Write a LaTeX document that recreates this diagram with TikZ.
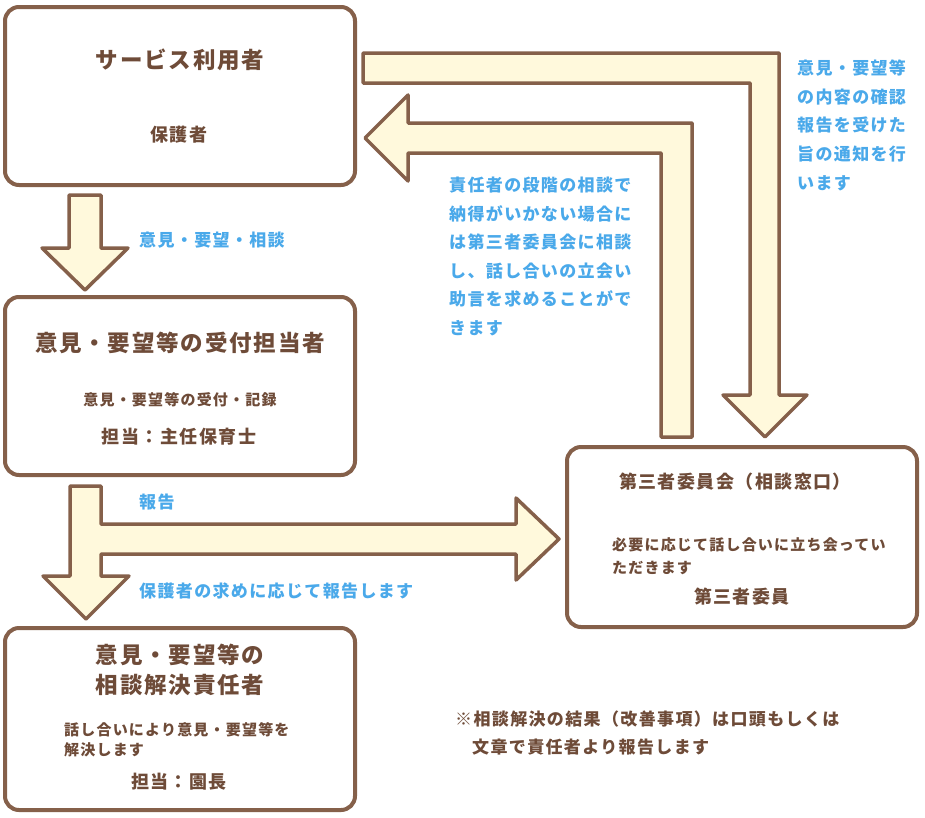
\documentclass[tikz,border=0pt]{standalone}
\usepackage{fontspec}
\newfontfamily\jp{Noto Sans CJK JP}[LetterSpace=8]
\definecolor{brn}{HTML}{85604A}
\definecolor{txtc}{HTML}{6E4B38}
\definecolor{blu}{HTML}{4AA9EA}
\definecolor{crm}{HTML}{FFF9DC}
\tikzset{
  box/.style={draw=brn, line width=4pt, rounded corners=14pt, fill=white, inner sep=0pt, minimum width=350pt},
  blockarrow/.style={draw=brn, fill=crm, line width=3.5pt, line join=round},
  t22/.style={inner sep=0pt, text=txtc, font=\jp\bfseries\fontsize{22.5}{22.5}\selectfont, text height=19.8pt, text depth=2.7pt},
  t18/.style={inner sep=0pt, text=txtc, font=\jp\bfseries\fontsize{18}{18}\selectfont, text height=15.8pt, text depth=2.2pt},
  t17/.style={inner sep=0pt, text=txtc, font=\jp\bfseries\fontsize{17}{17}\selectfont, text height=15pt, text depth=2pt},
  t15/.style={inner sep=0pt, text=txtc, font=\jp\bfseries\fontsize{15}{15}\selectfont, text height=13.2pt, text depth=1.8pt},
  bl/.style={inner sep=0pt, anchor=west, text=blu, font=\jp\bfseries\fontsize{17}{17}\selectfont, text height=15pt, text depth=2pt}
}
\begin{document}
\begin{tikzpicture}[x=1pt,y=-1pt]
\useasboundingbox[fill=white] (0,0) rectangle (925,817);

% boxes
\node[box, minimum height=178pt] (user) at (180,96) {};
\node[box, minimum height=178pt] (recv) at (180,386) {};
\node[box, minimum height=180pt] (third) at (742,537) {};
\node[box, minimum height=182pt] (resp) at (180,719) {};

% block arrows
\draw[blockarrow] (69,195) -- (101,195) -- (101,248) -- (128,248) -- (85,290) -- (42,248) -- (69,248) -- cycle;
\draw[blockarrow] (363,53) -- (779,53) -- (779,395) -- (807,395) -- (765,437) -- (723,395) -- (750,395) -- (750,83) -- (363,83) -- cycle;
\draw[blockarrow] (661,437) -- (692,437) -- (692,123) -- (408,123) -- (408,95) -- (365,138) -- (408,181) -- (408,153) -- (661,153) -- cycle;
\draw[blockarrow] (70,486) -- (101,486) -- (101,524) -- (516,524) -- (516,498) -- (559,539) -- (516,580) -- (516,554) -- (101,554) -- (101,576) -- (129,576) -- (86,619) -- (43,576) -- (70,576) -- cycle;

% box texts
\node[t22] (userT) at (180,60) {サービス利用者};
\node[t18] (userS) at (179,135) {保護者};
\node[t22] (recvT) at (180,343) {意見・要望等の受付担当者};
\node[t15] (recvS) at (180,400) {意見・要望等の受付・記録};
\node[t18] (recvP) at (179,437) {担当：主任保育士};
\node[t18] (thirdT) at (735,482) {第三者委員会（相談窓口）};
\node[t15, anchor=west] (thirdS1) at (612,545) {必要に応じて話し合いに立ち会ってい};
\node[t15, anchor=west] (thirdS2) at (612,568) {ただきます};
\node[t18] (thirdP) at (742,597) {第三者委員};
\node[t22] (respT1) at (180,655) {意見・要望等の};
\node[t22] (respT2) at (180,685) {相談解決責任者};
\node[t15, anchor=west] (respS1) at (64,730) {話し合いにより意見・要望等を};
\node[t15, anchor=west] (respS2) at (64,750) {解決します};
\node[t18] (respP) at (179,782) {担当：園長};
\node[t17, anchor=west] (note1) at (455,719) {※相談解決の結果（改善事項）は口頭もしくは};
\node[t17, anchor=west] (note2) at (472,747) {文章で責任者より報告します};

% blue labels
\node[bl] (lab1) at (139,240) {意見・要望・相談};
\node[bl] (lab2) at (139,502) {報告};
\node[bl] (lab3) at (139,591) {保護者の求めに応じて報告します};
\node[bl] (c1) at (449,185) {責任者の段階の相談で};
\node[bl] (c2) at (449,213.5) {納得がいかない場合に};
\node[bl] (c3) at (449,242) {は第三者委員会に相談};
\node[bl] (c4) at (449,270.5) {し、話し合いの立会い};
\node[bl] (c5) at (449,299) {助言を求めることがで};
\node[bl] (c6) at (449,327.5) {きます};
\node[bl] (n1) at (797,68) {意見・要望等};
\node[bl] (n2) at (797,97) {の内容の確認};
\node[bl] (n3) at (797,125) {報告を受けた};
\node[bl] (n4) at (797,154) {旨の通知を行};
\node[bl] (n5) at (797,183) {います};
\end{tikzpicture}
\end{document}
